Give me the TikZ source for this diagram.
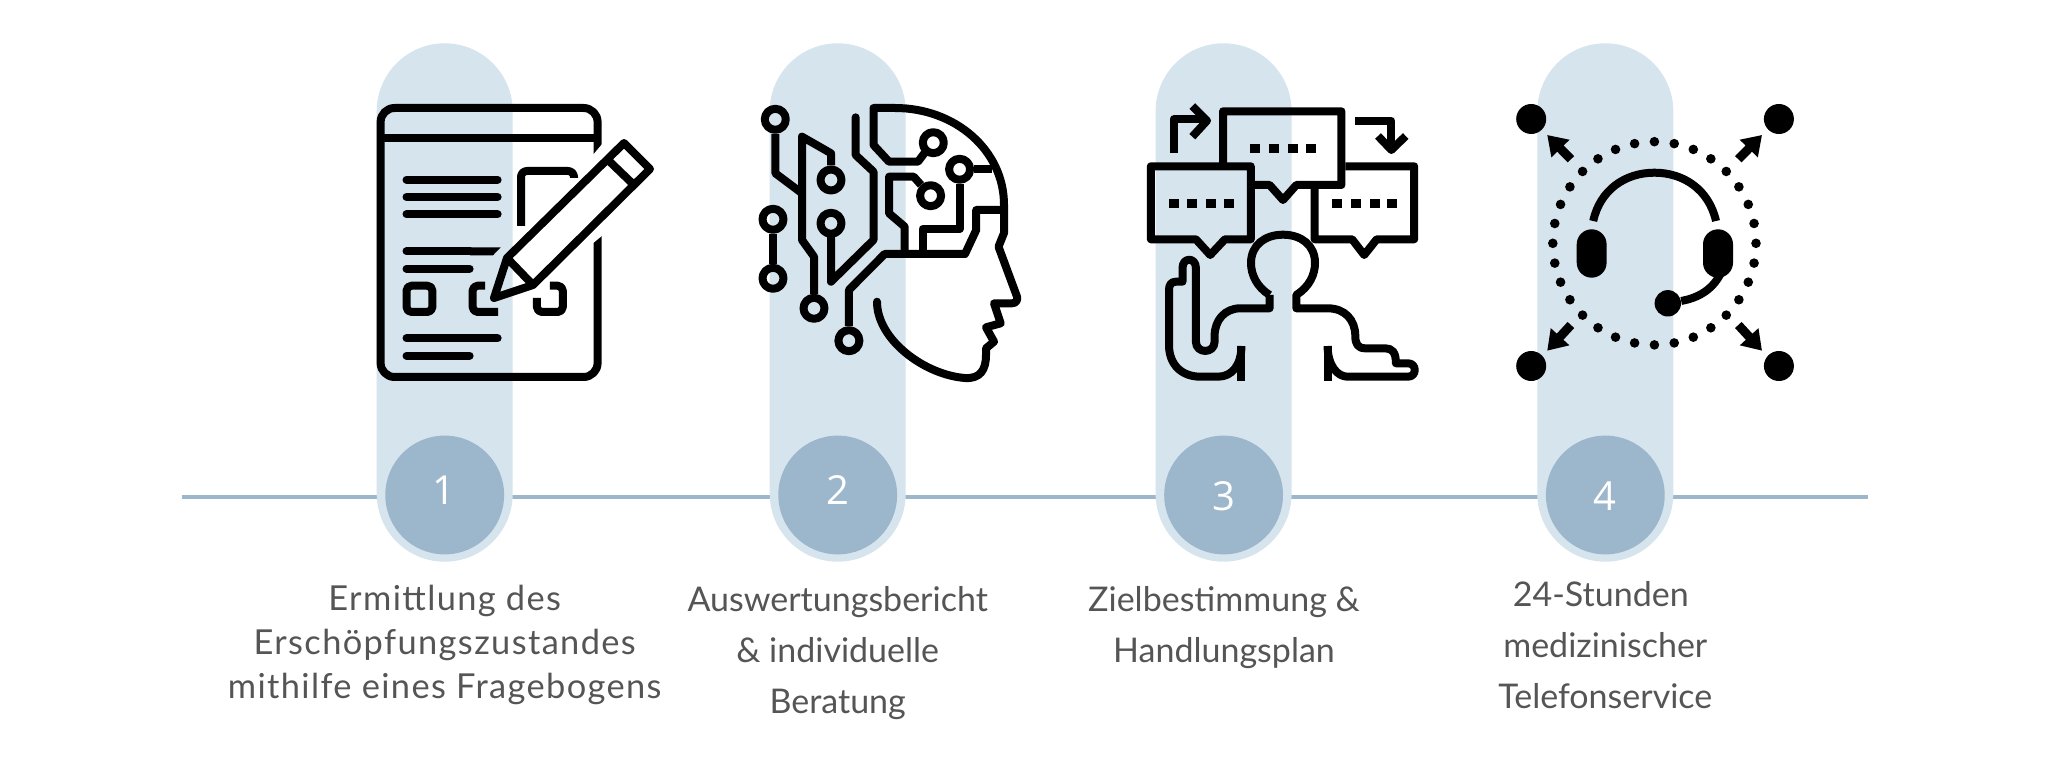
\documentclass[tikz,border=0pt]{standalone}
\usepackage{fontspec}
\setmainfont{Lato}
\newfontfamily\numfont{Open Sans}
\newfontfamily\widefont[LetterSpace=4]{Lato}
\usetikzlibrary{arrows.meta,positioning}
\definecolor{pillblue}{HTML}{D6E4EE}
\definecolor{stepblue}{HTML}{9CB6CB}
\definecolor{labelgrey}{HTML}{555555}

\begin{document}
\begin{tikzpicture}[x=0.5pt, y=-0.5pt, >=latex,
  pill/.style={fill=pillblue, rounded corners=34pt, minimum width=68pt, minimum height=259.2pt, inner sep=0pt},
  stepdot/.style={circle, fill=stepblue, minimum size=59.4pt, inner sep=0pt},
  stepnum/.style={text=white, font=\numfont\fontsize{20}{24}\selectfont, inner sep=0pt},
  steptext/.style={text=labelgrey, align=center, inner sep=0pt, anchor=north, font=\fontsize{17}{25.5}\selectfont},
  icon/.style={draw=black, line width=4pt, line join=round},
  txtline/.style={icon, line cap=round},
  ring/.style={icon, fill=none, minimum size=10.5pt, circle, inner sep=0pt},
  sig/.style={fill=black, minimum width=5pt, minimum height=4.3pt, inner sep=0pt},
  sender/.style={circle, fill=black, minimum size=15pt, inner sep=0pt},
  spreadarrow/.style={line width=4.5pt, -{Triangle[length=9.5pt,width=12pt]}}]
\useasboundingbox (0,0) rectangle (2050,780);

\coordinate (lineL) at (181.5,496.5);
\coordinate (lineR) at (1868,496.5);
\draw[stepblue, line width=2pt] (lineL) -- (lineR);

\node[pill] (pillA) at (444.7,302.5) {};
\node[pill] (pillB) at (837.7,302.5) {};
\node[pill] (pillC) at (1223.6,302.5) {};
\node[pill] (pillD) at (1605.3,302.5) {};

\node[stepdot] (dotA) at (444.7,495) {};
\node[stepdot] (dotB) at (837.7,495) {};
\node[stepdot] (dotC) at (1223.6,495) {};
\node[stepdot] (dotD) at (1605.3,495) {};
\node[stepnum] (numA) at (444.4,490) {1};
\node[stepnum] (numB) at (837.6,490) {2};
\node[stepnum] (numC) at (1223.6,496) {3};
\node[stepnum] (numD) at (1605.3,496) {4};

\node[steptext, font=\widefont\fontsize{17.2}{22}\selectfont] (textA) at (444.7,585) {Ermittlung des\\Erschöpfungszustandes\\mithilfe eines Fragebogens};
\node[steptext] (textB) at (837.7,586.5) {Auswertungsbericht\\\& individuelle\\Beratung};
\node[steptext] (textC) at (1224,586.5) {Zielbestimmung \&\\Handlungsplan};
\node[steptext] (textD) at (1605.3,581.5) {\hspace*{-4.5pt}24-Stunden\\medizinischer\\Telefonservice};

% form and pencil
\draw[icon, rounded corners=7pt] (597.6,155) -- (597.6,108) -- (380.6,108) -- (380.6,377) -- (597.6,377) -- (597.6,233);
\fill[white] (592,156) -- (603,143) -- (603,156) -- cycle (592,232) -- (603,232) -- (603,235) -- (592,244) -- cycle;
\draw[icon] (380.6,138) -- (597.6,138);
\foreach \ypos in {179.7,197,214.3,338.3}
  \draw[txtline] (406.5,\ypos) -- (497.6,\ypos);
\foreach \ypos in {268.7,355.7}
  \draw[txtline] (406.5,\ypos) -- (469.6,\ypos);
\draw[txtline] (406.5,251.3) -- (470,251.3);
\fill (470,247.3) -- (500.7,247.3) -- (493,255.3) -- (470,255.3) -- cycle;
\draw[icon, rounded corners=2.5pt] (406.5,285.7) rectangle (432.4,312);
\draw[icon, rounded corners=2.5pt] (485,285.7) -- (472.6,285.7) -- (472.6,312) -- (498,312);
\draw[icon, rounded corners=2.5pt] (549.8,285.7) -- (562.8,285.7) -- (562.8,312) -- (536.9,312) -- (536.9,298);
\draw[icon, rounded corners=3pt] (521,226) -- (521,171) -- (574,171) -- (574,178);
\draw[icon] (494,298) -- (507,258) -- (624,143) -- (650,169) -- (533,285) -- cycle;
\draw[icon] (507,258) -- (533,285);
\draw[icon] (608,160) -- (634,185);

% head with circuits
\draw[icon, line cap=round] (877,301.7) .. controls (877,340) and (925,375) .. (965,378) .. controls (980,379) and (986,370) .. (986,355) -- (986,348.3) -- (994,341.7) -- (986,327.3) -- (1000.7,323.3) -- (994,303.3) -- (1012,303.3) .. controls (1016,303.3) and (1018,300) .. (1017,296.7) -- (998.5,246.7) -- (1004,233) -- (1004,205) .. controls (1004,150) and (955,108) .. (895,108) -- (873.5,108) -- (873.5,145) -- (889,161.7) -- (918,161.7) -- (926,151);
\node[ring] (nodeA) at (933.3,142.7) {};
\node[ring] (nodeB) at (959.6,169.3) {};
\node[ring] (nodeC) at (930.6,195.7) {};
\node[ring] (nodeD) at (775.3,119.3) {};
\node[ring] (nodeE) at (831,180) {};
\node[ring] (nodeF) at (831,223.3) {};
\node[ring] (nodeG) at (773,219.3) {};
\node[ring] (nodeH) at (773,278.3) {};
\node[ring] (nodeI) at (814,308.3) {};
\node[ring] (nodeJ) at (848.9,340.7) {};
\draw[icon] (nodeB) -- (991.8,169.3);
\draw[icon] (nodeB) -- (959.6,229) -- (922.6,229) -- (922.6,254);
\draw[icon] (nodeC) -- (913.7,176.7) -- (889,176.7) -- (889,213.3) -- (904.7,226.7) -- (904.7,254);
\draw[icon] (nodeJ) -- (848.9,290) -- (884.6,254) -- (965,254) -- (976.2,230) -- (976.2,210) -- (1004,210);
\draw[icon] (nodeD) -- (775.3,173.3) -- (802,193.3);
\draw[icon] (nodeI) -- (814,256.7) -- (802,240) -- (802,136.7) -- (831,153.3) -- (nodeE);
\draw[icon, line cap=round] (nodeF) -- (831,281.7) -- (873.5,240) -- (873.5,171.7) -- (855.6,155) -- (855.6,117.3);
\draw[icon] (nodeG) -- (nodeH);

% speech bubbles and person
\draw[icon] (1223,166) -- (1223,111.3) -- (1341.4,111.3) -- (1341.4,185) -- (1296.3,185) -- (1283,200) -- (1269.6,185) -- (1254,185);
\draw[icon] (1195.9,239.3) -- (1150.8,239.3) -- (1150.8,166.3) -- (1250.8,166.3) -- (1250.8,239.3) -- (1224.9,239.3) -- (1210.2,255) -- cycle;
\draw[icon] (1345.4,166.3) -- (1414.2,166.3) -- (1414.2,239.3) -- (1376.7,239.3) -- (1364.2,255) -- (1352.1,239.3) -- (1314.6,239.3) -- (1314.6,189);
\foreach \xpos in {1255.3,1274,1292.8,1310.6}
  \node[sig] at (\xpos,148.3) {};
\foreach \xpos in {1173.6,1192.3,1210.6,1228.5,1337.4,1355.7,1374.5,1392.3}
  \node[sig] at (\xpos,203.3) {};
\draw[icon] (1173.6,152.7) -- (1173.6,119.3) -- (1204,119.3);
\draw[icon] (1192.3,106) -- (1207,120.7) -- (1192.3,136.7);
\draw[icon] (1355.3,120.7) -- (1391.4,120.7) -- (1391.4,148);
\draw[icon] (1378,136) -- (1391.4,150) -- (1405.7,136);
\draw[icon] (1269.6,295) .. controls (1257,287) and (1251,275) .. (1251,263) .. controls (1251,245) and (1265,234.7) .. (1283,234.7) .. controls (1301,234.7) and (1315,245) .. (1315,263) .. controls (1315,275) and (1309,287) .. (1296.3,295) -- (1296.3,308.3) -- (1327.6,308.3) .. controls (1345,308.3) and (1355.3,320) .. (1355.3,336) .. controls (1355.3,344) and (1358,348.3) .. (1365,348.3) -- (1385,348.3) .. controls (1392,348.3) and (1395.9,352) .. (1395.9,363.3) -- (1408,363.3) .. controls (1417,363.3) and (1417,376.7) .. (1408,376.7) -- (1347.7,376.7) .. controls (1337,376.7) and (1327.6,365) .. (1327.6,346);
\draw[icon] (1327.6,346) -- (1327.6,381);
\draw[icon] (1269.6,295) -- (1269.6,308.3) -- (1240.5,308.3) .. controls (1225,308.3) and (1214.6,320) .. (1214.6,336) -- (1214.6,341.7) .. controls (1214.6,354) and (1195.9,354) .. (1195.9,341.7) -- (1195.9,268) .. controls (1195.9,257) and (1182.5,257) .. (1182.5,268) -- (1182.5,281.7) -- (1176,281.7) .. controls (1171,281.7) and (1169,285) .. (1169,290) -- (1169,345) .. controls (1169,365) and (1182,376.7) .. (1200.4,376.7) -- (1218,376.7) .. controls (1232,376.7) and (1241.4,365) .. (1241.4,346);
\draw[icon] (1241.4,346) -- (1241.4,381);

% headset with dotted ring
\coordinate (ringC) at (1654.4,243.3);
\foreach \ang in {0,11.25,...,349}
  \fill[shift={(ringC)}] (\ang:101.6) circle (2.4pt);
\node[sender] (sendTL) at (1531.2,119) {};
\node[sender] (sendTR) at (1778.9,119) {};
\node[sender] (sendBL) at (1531.2,366) {};
\node[sender] (sendBR) at (1778.9,366) {};
\coordinate (tailTL) at (1570.9,159.3);
\coordinate (tailTR) at (1738.3,159.3);
\coordinate (tailBL) at (1570.9,325);
\coordinate (tailBR) at (1738.3,325);
\coordinate (tipTL) at (1547.2,135);
\coordinate (tipTR) at (1762,135);
\coordinate (tipBL) at (1547.2,350.7);
\coordinate (tipBR) at (1762,350.7);
\draw[spreadarrow] (tailTL) -- (tipTL);
\draw[spreadarrow] (tailTR) -- (tipTR);
\draw[spreadarrow] (tailBL) -- (tipBL);
\draw[spreadarrow] (tailBR) -- (tipBR);
\draw[icon] (1593.2,221) .. controls (1600,190) and (1625,172.7) .. (1654.4,172.7) .. controls (1684,172.7) and (1709,190) .. (1716,221);
\fill[rounded corners=7.5pt] (1576.7,229.3) rectangle (1606.6,277.7);
\fill[rounded corners=7.5pt] (1703,229.3) rectangle (1733,277.7);
\node[sender, minimum size=13.2pt] (mic) at (1667.8,303.3) {};
\draw[icon] (1720.4,274) .. controls (1712,290) and (1698,298) .. (mic);
\end{tikzpicture}
\end{document}
